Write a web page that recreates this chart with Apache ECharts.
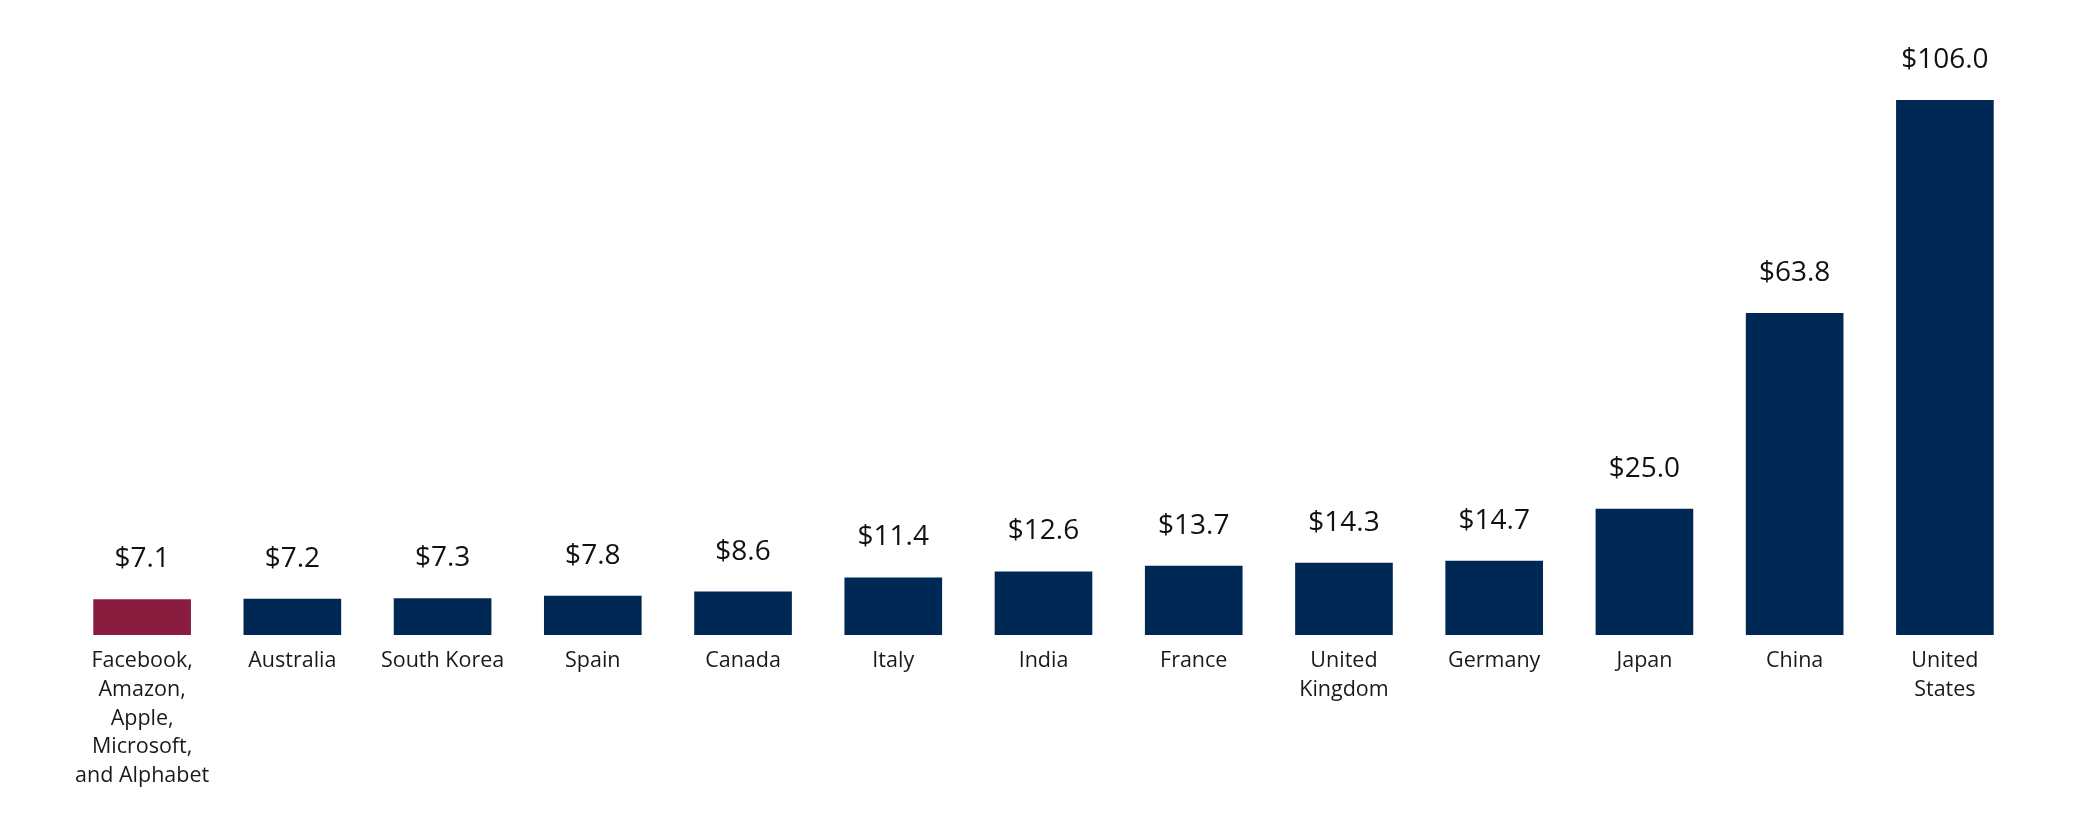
<!DOCTYPE html>
<html>
<head>
<meta charset="utf-8">
<script src="https://cdn.jsdelivr.net/npm/echarts@6/dist/echarts.min.js"></script>
<style>html,body{margin:0;padding:0;background:#fff;}#c{width:2083px;height:833px;}</style>
</head>
<body>
<div id="c"></div>
<script>
const categories = ["Facebook,\nAmazon,\nApple,\nMicrosoft,\nand Alphabet", "Australia", "South Korea", "Spain", "Canada", "Italy", "India", "France", "United\nKingdom", "Germany", "Japan", "China", "United\nStates"];
const values = [7.1, 7.2, 7.3, 7.8, 8.6, 11.4, 12.6, 13.7, 14.3, 14.7, 25.0, 63.8, 106.0];
const highlightIndex = 0;

const NAVY = '#002855';
const RED = '#8a1d3f';
const FONT = '"Open Sans", Lato, sans-serif';

const chart = echarts.init(document.getElementById('c'));
chart.setOption({
  animation: false,
  backgroundColor: '#fff',
  grid: { left: 67, right: 63, top: 100, bottom: 198, containLabel: false },
  xAxis: {
    type: 'category',
    data: categories,
    axisLine: { show: false },
    axisTick: { show: false },
    axisLabel: { color: '#1a1a1a', fontSize: 21.5, fontFamily: FONT, lineHeight: 28.6, margin: 12, interval: 0 }
  },
  yAxis: {
    type: 'value', min: 0, max: 106,
    show: false,
    splitLine: { show: false }
  },
  series: [{
    type: 'bar',
    data: values.map((v, i) => ({ value: v, itemStyle: { color: i === highlightIndex ? RED : NAVY } })),
    barCategoryGap: '35%',
    label: {
      show: true, position: 'top', distance: 26,
      color: '#111', fontSize: 28, fontFamily: FONT,
      formatter: p => '$' + p.value.toFixed(1)
    }
  }]
});
</script>
</body>
</html>
